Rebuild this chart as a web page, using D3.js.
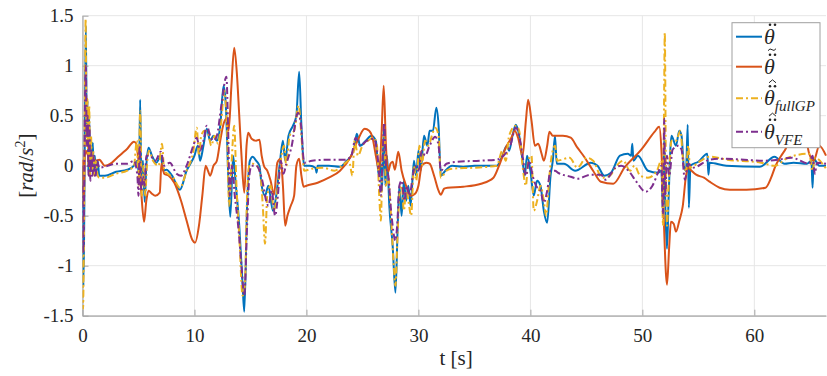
<!DOCTYPE html>
<html>
<head>
<meta charset="utf-8">
<script src="https://cdn.jsdelivr.net/npm/d3@7"></script>
<style>
  body { margin: 0; background: #fff; }
  text { font-family: "Liberation Serif", "DejaVu Serif", serif; }
</style>
</head>
<body>
<svg id="chart" width="827" height="376"></svg>
<script>
// time axis [s] and tick labels
var xTicks = [0, 10, 20, 30, 40, 50, 60];
var yTicks = [-1.5, -1, -0.5, 0, 0.5, 1, 1.5];
var yTickLabels = ["-1.5", "-1", "-0.5", "0", "0.5", "1", "1.5"];

// measured acceleration  [t, value]
var theta = [[0,0],[0.08,-1.2],[0.15,-0.6],[0.22,0.5],[0.3,1.4],[0.38,0.3],[0.45,0.65],[0.52,-0.05],[0.6,0.5],[0.68,-0.1],[0.76,0.2],[0.85,0.05],[0.92,0.23],[1.0,-0.05],[1.1,0.1],[1.2,-0.08],[1.35,0.05],[1.5,-0.1],[2.0,-0.1],[3.0,-0.06],[4.0,-0.04],[4.6,0.0],[4.9,0.05],[5.05,-0.1],[5.15,0.66],[5.25,-0.1],[5.4,0.05],[5.55,-0.36],[5.7,0.0],[5.9,0.18],[6.2,0.1],[6.6,0.03],[7.0,0.1],[7.2,-0.05],[7.5,-0.04],[8.0,-0.1],[8.7,-0.24],[9.3,-0.05],[10.0,0.1],[10.3,0.2],[10.5,0.05],[10.8,0.2],[11.1,0.37],[11.4,0.25],[11.7,0.3],[12.0,0.25],[12.3,0.4],[12.6,0.8],[12.8,0.6],[13.05,-0.2],[13.2,-0.51],[13.45,0.1],[13.7,-0.2],[14.0,-0.6],[14.3,-1.2],[14.45,-1.46],[14.7,-0.4],[14.95,0.05],[15.2,0.09],[15.5,0.05],[15.8,0.0],[16.0,-0.2],[16.3,-0.3],[16.6,-0.2],[17.0,-0.45],[17.3,-0.3],[17.6,0.0],[17.9,0.25],[18.1,0.05],[18.4,0.3],[18.8,0.4],[19.1,0.5],[19.35,0.94],[19.55,0.4],[19.8,0.0],[20.3,0.0],[20.8,-0.02],[20.9,-0.07],[21.0,0.0],[22.0,0.0],[23.0,-0.01],[23.6,0.05],[24.0,0.1],[24.3,0.2],[24.5,0.32],[24.8,0.2],[25.3,0.25],[25.8,0.3],[26.2,0.25],[26.45,-0.1],[26.6,0.05],[26.75,-0.25],[26.9,0.35],[27.05,-0.2],[27.2,0.1],[27.4,-0.4],[27.7,-0.8],[27.95,-1.27],[28.15,-0.6],[28.3,-0.2],[28.5,-0.5],[28.7,-0.15],[28.9,-0.35],[29.1,-0.2],[29.3,-0.4],[29.6,0.05],[29.8,-0.1],[30.0,0.15],[30.2,-0.05],[30.5,0.3],[30.8,0.2],[31.0,0.35],[31.3,0.35],[31.6,0.58],[31.8,0.4],[32.0,-0.1],[32.4,-0.05],[33.0,0.0],[34,-0.01],[35,0.0],[36,0.0],[37,0.0],[37.5,0.1],[37.9,0.2],[38.1,0.15],[38.4,0.3],[38.7,0.41],[39.0,0.3],[39.3,0.05],[39.5,-0.1],[39.7,0.1],[40.0,-0.05],[40.3,-0.3],[40.6,-0.15],[40.9,-0.2],[41.2,-0.45],[41.5,-0.57],[41.8,-0.1],[42.0,0.05],[42.2,0.3],[42.35,0.02],[43.0,0.02],[44.0,-0.05],[45.4,0.03],[46.0,0.0],[46.6,-0.1],[47.2,-0.07],[48.0,0.1],[48.7,0.12],[49.0,0.1],[49.1,0.22],[49.2,0.05],[49.6,0.1],[50.5,-0.05],[51.4,-0.07],[51.7,-0.05],[51.85,-0.5],[51.95,0.3],[52.05,-0.4],[52.2,-0.83],[52.35,-0.3],[52.6,0.3],[53.0,0.2],[53.3,0.35],[53.5,0.3],[53.7,0.0],[53.9,-0.05],[54.05,0.41],[54.15,-0.42],[54.3,0.0],[55.0,0.04],[55.8,0.12],[55.9,-0.09],[56.0,0.03],[57.5,0.0],[60.5,-0.01],[61.8,0.09],[62.7,0.02],[63.5,0.03],[64.7,0.02],[65.1,0.05],[65.2,-0.22],[65.3,0.07],[65.8,0.0],[66.4,0.0]];

// model prediction
var thetaTilde = [[0,0.06],[0.05,-0.3],[0.1,-0.4],[0.2,0.1],[0.3,0.15],[0.5,0.1],[0.8,0.08],[1.2,0.05],[1.5,0.06],[2.0,0.0],[2.5,0.02],[3.0,0.07],[3.5,0.12],[4.0,0.17],[4.6,0.24],[4.8,0.22],[5.0,0.05],[5.2,-0.2],[5.5,-0.56],[5.7,-0.35],[5.9,-0.25],[6.2,-0.28],[6.5,-0.3],[6.9,-0.27],[7.05,0.02],[7.3,-0.08],[7.7,-0.1],[8.2,-0.17],[8.8,-0.35],[9.3,-0.55],[9.8,-0.74],[10.05,-0.77],[10.4,-0.6],[10.7,-0.3],[11.0,0.0],[11.2,-0.05],[11.4,-0.1],[11.7,0.0],[12.0,0.05],[12.3,0.25],[12.6,0.42],[12.85,0.47],[13.05,0.35],[13.3,0.8],[13.55,1.18],[13.8,0.9],[14.0,0.5],[14.2,0.1],[14.45,-0.27],[14.65,0.2],[14.8,0.33],[15.1,0.27],[15.5,0.25],[15.8,0.26],[16.0,0.1],[16.2,0.0],[16.5,-0.05],[16.8,-0.15],[17.1,-0.29],[17.4,0.03],[17.7,0.07],[17.9,-0.2],[18.1,-0.6],[18.3,-0.5],[18.6,-0.4],[18.9,-0.3],[19.1,0.0],[19.35,0.07],[19.55,-0.1],[19.75,-0.21],[20.0,-0.2],[21.0,-0.17],[22.0,-0.12],[23.0,-0.05],[24.0,0.1],[24.6,0.26],[25.2,0.37],[25.6,0.35],[25.9,0.28],[26.2,0.1],[26.5,-0.05],[26.7,0.3],[26.9,0.8],[27.1,0.2],[27.3,-0.06],[27.5,0.02],[27.7,0.04],[27.9,-0.04],[28.2,0.14],[28.5,-0.05],[28.9,-0.2],[29.3,-0.3],[29.7,-0.28],[30.0,-0.2],[30.3,0.0],[30.7,0.03],[31.0,0.02],[31.4,-0.1],[31.8,-0.25],[32.0,-0.29],[32.3,-0.23],[32.6,-0.22],[34.0,-0.21],[35.6,-0.18],[36.7,-0.12],[37.2,0.0],[37.8,0.18],[38.3,0.28],[38.6,0.35],[38.9,0.28],[39.3,0.1],[39.6,0.45],[39.8,0.66],[40.1,0.45],[40.4,0.2],[40.7,0.22],[41.0,0.12],[41.2,0.05],[41.5,0.2],[41.7,0.34],[42.0,0.3],[42.9,0.3],[43.6,0.28],[44.2,0.18],[44.8,0.09],[45.6,-0.05],[46.3,-0.16],[47.4,-0.18],[48.4,-0.02],[49.9,0.16],[51.1,0.34],[51.5,0.39],[51.7,0.16],[51.9,-0.5],[52.2,-1.19],[52.4,-0.8],[52.55,-0.56],[52.8,-0.58],[53.0,-0.66],[53.3,-0.55],[53.6,-0.41],[53.9,-0.1],[54.1,-0.02],[54.3,-0.04],[54.8,-0.09],[55.5,-0.12],[56.0,-0.16],[56.9,-0.22],[57.8,-0.24],[59.3,-0.24],[61.0,-0.22],[61.5,-0.12],[61.9,0.0],[62.4,0.1],[62.8,0.17],[63.3,0.32],[63.8,0.42],[64.4,0.38],[64.9,0.12],[65.3,0.05],[65.8,0.2],[66.4,0.1]];

// full GP estimate
var thetaFullGP = [[0,-0.5],[0.05,-1.43],[0.12,-0.8],[0.2,0.4],[0.28,1.47],[0.36,0.2],[0.44,0.67],[0.52,0.0],[0.6,0.6],[0.68,-0.1],[0.76,0.3],[0.85,-0.05],[0.95,0.15],[1.05,-0.1],[1.2,0.05],[1.35,-0.1],[1.5,-0.12],[2.0,-0.12],[3.0,-0.08],[4.0,-0.05],[4.6,0.0],[4.85,0.25],[5.0,-0.2],[5.15,0.55],[5.3,-0.3],[5.45,0.0],[5.6,-0.3],[5.75,0.0],[5.95,0.15],[6.3,0.05],[6.8,0.0],[7.1,0.22],[7.3,-0.05],[7.6,-0.08],[8.1,-0.12],[8.7,-0.22],[9.3,-0.05],[9.9,0.15],[10.2,0.38],[10.4,0.1],[10.6,0.3],[10.9,0.35],[11.2,0.33],[11.5,0.2],[11.8,0.3],[12.1,0.22],[12.4,0.45],[12.65,0.75],[12.9,0.4],[13.1,-0.4],[13.3,0.0],[13.55,0.4],[13.75,-0.2],[14.0,-0.7],[14.3,-1.3],[14.5,-1.2],[14.7,-0.3],[14.9,0.0],[15.2,0.02],[15.6,0.0],[15.9,-0.1],[16.1,-0.4],[16.3,-0.78],[16.5,-0.3],[16.8,-0.2],[17.1,-0.45],[17.4,-0.25],[17.7,0.05],[18.0,0.2],[18.2,0.0],[18.5,0.3],[18.9,0.35],[19.3,0.6],[19.55,0.3],[19.8,-0.05],[20.5,-0.03],[21.5,-0.02],[22.5,-0.05],[23.2,0.0],[23.8,0.05],[24.1,-0.1],[24.3,0.25],[24.6,0.1],[25.0,0.2],[25.5,0.25],[26.0,0.28],[26.3,0.2],[26.5,-0.3],[26.65,-0.55],[26.8,0.2],[26.95,0.3],[27.1,-0.2],[27.3,-0.1],[27.5,-0.4],[27.8,-1.0],[27.95,-1.2],[28.1,-0.8],[28.3,-0.3],[28.5,-0.2],[28.7,-0.45],[28.9,-0.25],[29.1,-0.35],[29.35,-0.5],[29.6,0.0],[29.8,-0.15],[30.1,0.2],[30.3,0.0],[30.6,0.25],[30.9,0.2],[31.2,0.3],[31.5,0.38],[31.8,0.3],[32.0,-0.12],[32.5,-0.05],[33,-0.03],[35,-0.02],[37,0.0],[37.5,0.15],[37.8,0.05],[38.1,0.3],[38.7,0.4],[39.0,0.35],[39.3,0.0],[39.6,-0.2],[39.8,0.05],[40.1,0.1],[40.3,-0.45],[40.6,-0.35],[40.9,-0.2],[41.2,-0.35],[41.4,-0.5],[41.7,-0.1],[41.9,0.1],[42.2,0.2],[42.4,0.05],[43.5,0.08],[44.2,-0.02],[45.0,0.08],[45.6,0.05],[46.4,-0.12],[47.1,-0.1],[47.7,0.0],[48.3,0.05],[48.9,-0.05],[49.3,0.0],[49.8,-0.1],[50.5,-0.12],[51.3,-0.05],[51.7,0.05],[51.85,-0.6],[51.95,0.8],[52.0,1.33],[52.1,0.0],[52.2,-0.6],[52.35,-0.2],[52.6,0.25],[53.0,0.25],[53.4,0.35],[53.6,0.1],[53.9,-0.05],[54.1,0.2],[54.25,-0.02],[55.1,0.04],[56.0,0.09],[57.6,0.06],[60.6,0.03],[61.8,0.0],[63.0,0.08],[64.9,0.12],[65.2,-0.05],[65.4,0.08],[66.4,-0.03]];

// sparse GP (VFE) estimate
var thetaVFE = [[0,-0.2],[0.06,-0.88],[0.14,-0.3],[0.22,0.6],[0.3,1.0],[0.38,0.2],[0.46,0.5],[0.54,-0.1],[0.62,0.4],[0.7,-0.15],[0.8,0.15],[0.9,-0.1],[1.0,0.1],[1.15,-0.12],[1.3,0.05],[1.5,-0.02],[2.0,-0.01],[3.0,0.02],[4.0,0.02],[4.6,0.05],[4.9,-0.1],[5.0,-0.3],[5.1,0.2],[5.25,-0.25],[5.4,-0.1],[5.55,-0.2],[5.7,0.1],[6.0,0.1],[6.5,0.05],[7.0,0.14],[7.3,0.0],[7.8,0.03],[8.4,-0.08],[8.8,-0.1],[9.3,0.0],[9.9,0.2],[10.2,0.28],[10.5,0.15],[10.8,0.25],[11.1,0.4],[11.4,0.3],[11.7,0.25],[12.0,0.3],[12.4,0.6],[12.85,0.89],[13.0,0.4],[13.15,-0.3],[13.35,0.0],[13.6,-0.3],[13.9,-0.6],[14.2,-1.0],[14.45,-1.3],[14.7,-0.6],[14.9,-0.1],[15.1,0.0],[15.5,0.0],[16.1,-0.17],[16.4,-0.35],[16.6,-0.4],[16.9,-0.25],[17.2,-0.5],[17.45,-0.3],[17.7,0.05],[17.95,-0.08],[18.2,0.02],[18.65,0.18],[19.25,0.53],[19.5,0.42],[19.8,0.03],[20.5,0.05],[22,0.06],[23.5,0.06],[24.0,0.1],[24.4,0.28],[24.8,0.2],[25.4,0.25],[26.0,0.27],[26.3,0.15],[26.5,-0.1],[26.65,-0.3],[26.8,0.1],[26.95,0.43],[27.1,0.0],[27.3,-0.1],[27.6,-0.5],[27.95,-0.75],[28.1,-0.6],[28.3,-0.2],[28.5,-0.15],[28.75,-0.35],[28.95,-0.2],[29.2,-0.3],[29.5,-0.1],[29.7,0.0],[30.0,-0.05],[30.3,0.15],[30.6,0.1],[31.0,0.2],[31.5,0.29],[31.8,0.2],[32.0,-0.05],[32.5,0.02],[33.5,0.04],[35.5,0.05],[37.0,0.06],[37.6,0.1],[38.2,0.2],[38.7,0.38],[39.0,0.3],[39.3,0.1],[39.6,-0.1],[39.9,0.05],[40.2,-0.1],[40.5,-0.2],[40.9,-0.25],[41.2,-0.37],[41.5,-0.25],[41.8,-0.05],[42.2,-0.05],[42.45,-0.07],[43.6,-0.11],[44.2,-0.13],[45.4,-0.09],[46.3,-0.09],[46.7,-0.14],[47.6,-0.02],[48.1,0.0],[48.9,-0.07],[49.4,-0.15],[50.3,-0.26],[50.9,-0.2],[51.4,-0.07],[51.7,0.0],[51.85,-0.49],[51.95,0.47],[52.05,-0.3],[52.2,0.1],[52.4,-0.1],[52.7,0.16],[53.2,0.2],[53.5,0.16],[53.8,-0.14],[54.1,0.02],[54.5,-0.02],[56.0,0.06],[56.9,0.07],[59.1,0.06],[60.9,0.05],[62.1,0.06],[63.3,0.08],[64.9,0.02],[65.2,0.1],[65.4,-0.08],[65.6,0.03],[66.4,0.02]];

var svg = d3.select("#chart");
var pLeft = 82.5, pRight = 826, pTop = 15.7, pBottom = 315.7;

var x = d3.scaleLinear().domain([0, 66.4]).range([pLeft, pRight]);
var y = d3.scaleLinear().domain([-1.5, 1.5]).range([pBottom, pTop]);

// grid
var grid = svg.append("g").attr("stroke", "#e6e6e6").attr("stroke-width", 1);
grid.selectAll(".gx").data(xTicks).enter().append("line")
    .attr("x1", d => x(d)).attr("x2", d => x(d))
    .attr("y1", pTop).attr("y2", pBottom);
grid.selectAll(".gy").data(yTicks).enter().append("line")
    .attr("x1", pLeft).attr("x2", pRight)
    .attr("y1", d => y(d)).attr("y2", d => y(d));

// axes, MATLAB style: inward ticks
var xAxis = svg.append("g")
    .attr("transform", "translate(0," + pBottom + ")")
    .call(d3.axisBottom(x).tickValues(xTicks).tickSizeInner(-6).tickSizeOuter(0).tickPadding(13));
var yAxis = svg.append("g")
    .attr("transform", "translate(" + pLeft + ",0)")
    .call(d3.axisLeft(y).tickValues(yTicks).tickFormat((d, i) => yTickLabels[i]).tickSizeInner(-6).tickSizeOuter(0).tickPadding(9));

[xAxis, yAxis].forEach(function(a) {
  a.select(".domain").attr("stroke", "#a6a6a6").attr("stroke-width", 1.2);
  a.selectAll(".tick line").attr("stroke", "#a6a6a6");
  a.selectAll(".tick text").attr("fill", "#262626")
      .style("font-family", "'Liberation Serif', serif").style("font-size", "19px");
});

// clip to plot area
svg.append("clipPath").attr("id", "plotclip").append("rect")
    .attr("x", pLeft).attr("y", pTop - 2).attr("width", pRight - pLeft + 1).attr("height", pBottom - pTop + 4);

var line = d3.line().curve(d3.curveMonotoneX).x(d => x(d[0])).y(d => y(d[1]));

var series = [
  {data: theta,       color: "#0072BD", dash: null},
  {data: thetaTilde,  color: "#D95319", dash: null},
  {data: thetaFullGP, color: "#EDB120", dash: "7,3,2,3"},
  {data: thetaVFE,    color: "#7E2F8E", dash: "7,3,2,3"}
];

var plot = svg.append("g").attr("clip-path", "url(#plotclip)");
series.forEach(function(s) {
  plot.append("path")
      .attr("d", line(s.data))
      .attr("fill", "none")
      .attr("stroke", s.color)
      .attr("stroke-width", 2)
      .attr("stroke-linejoin", "round")
      .attr("stroke-dasharray", s.dash);
});

// axis labels
svg.append("text")
    .attr("x", 456).attr("y", 365)
    .attr("text-anchor", "middle")
    .attr("fill", "#262626")
    .style("font-size", "21px")
    .text("t [s]");

var ylab = svg.append("text")
    .attr("transform", "translate(33," + y(0) + ") rotate(-90)")
    .attr("text-anchor", "middle")
    .attr("fill", "#262626")
    .style("font-size", "21px");
ylab.append("tspan").text("[");
ylab.append("tspan").style("font-style", "italic").text("rad");
ylab.append("tspan").text("/");
ylab.append("tspan").style("font-style", "italic").text("s");
ylab.append("tspan").attr("dy", -8).style("font-size", "14px").text("2");
ylab.append("tspan").attr("dy", 8).text("]");

// legend
var lg = svg.append("g");
lg.append("rect")
    .attr("x", 732).attr("y", 22.7).attr("width", 88).attr("height", 125)
    .attr("fill", "#fff").attr("stroke", "#a0a0a0").attr("stroke-width", 1);

var legendItems = [
  {color: "#0072BD", dash: null,      accent: "",      sub: ""},
  {color: "#D95319", dash: null,      accent: "tilde", sub: ""},
  {color: "#EDB120", dash: "7,3,2,3", accent: "hat",   sub: "fullGP"},
  {color: "#7E2F8E", dash: "7,3,2,3", accent: "hat",   sub: "VFE"}
];
var ly = [36.7, 66.7, 98.3, 131.7];

legendItems.forEach(function(it, i) {
  var base = ly[i] + 7;
  lg.append("line")
      .attr("x1", 736).attr("x2", 762)
      .attr("y1", ly[i]).attr("y2", ly[i])
      .attr("stroke", it.color).attr("stroke-width", 2)
      .attr("stroke-dasharray", it.dash);
  var t = lg.append("text")
      .attr("x", 764).attr("y", base)
      .attr("fill", "#262626")
      .style("font-style", "italic")
      .style("font-size", "22px");
  t.append("tspan").text("\u03b8");
  if (it.sub) {
    t.append("tspan").attr("dy", 6).style("font-size", "15px").text(it.sub);
  }
  // double dot
  lg.selectAll(null).data([0, 1]).enter().append("circle")
      .attr("cx", d => 770 + d * 5).attr("cy", base - 19)
      .attr("r", 1.3).attr("fill", "#262626");
  // tilde / hat above the dots
  if (it.accent === "tilde") {
    lg.append("path")
        .attr("d", "M768," + (base - 23) + " q2,-3 4,-1 t4,-1")
        .attr("fill", "none").attr("stroke", "#262626").attr("stroke-width", 1);
  } else if (it.accent === "hat") {
    lg.append("path")
        .attr("d", "M769," + (base - 22.5) + " l3.5,-3 l3.5,3")
        .attr("fill", "none").attr("stroke", "#262626").attr("stroke-width", 1);
  }
});
</script>
</body>
</html>
